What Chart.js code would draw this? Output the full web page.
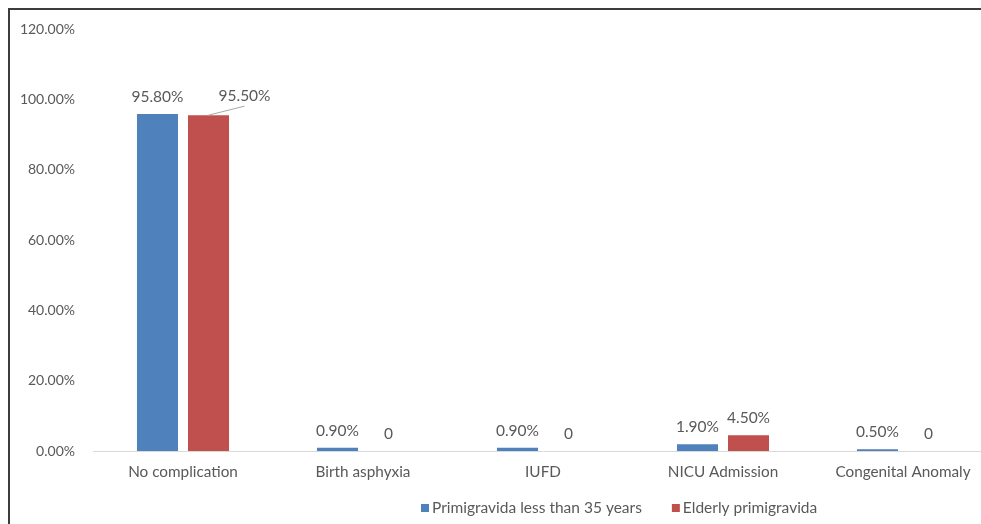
<!DOCTYPE html>
<html>
<head>
<meta charset="utf-8">
<script src="https://cdn.jsdelivr.net/npm/chart.js@4.4.1/dist/chart.umd.min.js"></script>
<style>
  html, body { margin: 0; padding: 0; background: #fff; overflow: hidden; width: 981px; height: 524px; }
  #wrap { position: absolute; left: 0; top: 0; width: 1010px; height: 524px; }
  #frame { position: absolute; left: 8px; top: 8px; width: 1100px; height: 600px; border-top: 2px solid #3c3c3c; border-left: 2px solid #3c3c3c; pointer-events: none; }
</style>
</head>
<body>
<div id="wrap"><canvas id="c" width="1010" height="524"></canvas></div>
<div id="frame"></div>
<script>
const categories = ["No complication", "Birth asphyxia", "IUFD", "NICU Admission", "Congenital Anomaly"];
const seriesNames = ["Primigravida less than 35 years", "Elderly primigravida"];
const youngValues = [95.8, 0.9, 0.9, 1.9, 0.5];
const elderlyValues = [95.5, 0, 0, 4.5, 0];
const yTicks = [0, 20, 40, 60, 80, 100, 120];

const FONT = "Lato, 'Open Sans', sans-serif";
const TXT = "#595959";

function fmt(v) { return v === 0 ? "0" : v.toFixed(2) + "%"; }

const labelPlugin = {
  id: "valueLabels",
  afterDatasetsDraw(chart) {
    const ctx = chart.ctx;
    ctx.save();
    ctx.font = "15.5px " + FONT;
    ctx.fillStyle = TXT;
    ctx.textAlign = "center";
    ctx.textBaseline = "middle";
    chart.data.datasets.forEach((ds, di) => {
      const meta = chart.getDatasetMeta(di);
      meta.data.forEach((bar, i) => {
        const v = ds.data[i];
        let x = bar.x, y = bar.y - 17;
        if (di === 1 && i === 0) {
          const lx = x + 36, ly = y - 2;
          ctx.strokeStyle = "#a6a6a6";
          ctx.lineWidth = 1;
          ctx.beginPath();
          ctx.moveTo(bar.x, bar.y);
          ctx.lineTo(lx, ly + 10);
          ctx.stroke();
          x = lx; y = ly;
        }
        ctx.fillText(fmt(v), x, y);
      });
    });
    ctx.restore();
  }
};

const legendPlugin = {
  id: "customLegend",
  afterDraw(chart) {
    const ctx = chart.ctx;
    ctx.save();
    ctx.font = "15.5px " + FONT;
    ctx.textBaseline = "middle";
    ctx.textAlign = "left";
    const y = 508;
    let x = 421;
    chart.data.datasets.forEach((ds, di) => {
      ctx.fillStyle = ds.backgroundColor;
      ctx.fillRect(x, y - 4, 8, 8);
      ctx.fillStyle = TXT;
      ctx.fillText(ds.label, x + 11, y);
      x += 11 + ctx.measureText(ds.label).width + 30;
    });
    ctx.restore();
  }
};

new Chart(document.getElementById("c"), {
  type: "bar",
  data: {
    labels: categories,
    datasets: [
      { label: seriesNames[0], data: youngValues, backgroundColor: "#4F81BD", categoryPercentage: 0.567, barPercentage: 0.804 },
      { label: seriesNames[1], data: elderlyValues, backgroundColor: "#C0504D", categoryPercentage: 0.567, barPercentage: 0.804 }
    ]
  },
  options: {
    responsive: false,
    animation: false,
    layout: { padding: { left: 0, top: 29, right: 17, bottom: 0 } },
    plugins: { legend: { display: false }, tooltip: { enabled: false } },
    scales: {
      y: {
        min: 0, max: 120,
        afterFit(s) { s.width = 93; },
        afterBuildTicks(s) { s.ticks = yTicks.map(v => ({ value: v })); },
        grid: { display: false, drawTicks: false },
        border: { display: false },
        ticks: { padding: 18, color: TXT, font: { family: FONT, size: 14 }, callback: v => v.toFixed(2) + "%" }
      },
      x: {
        afterFit(s) { s.height = 73; },
        grid: { display: false, drawTicks: false },
        border: { display: true, color: "#D9D9D9", width: 1 },
        ticks: { padding: 12, color: TXT, font: { family: FONT, size: 15.3 }, maxRotation: 0, autoSkip: false }
      }
    }
  },
  plugins: [labelPlugin, legendPlugin]
});
</script>
</body>
</html>
